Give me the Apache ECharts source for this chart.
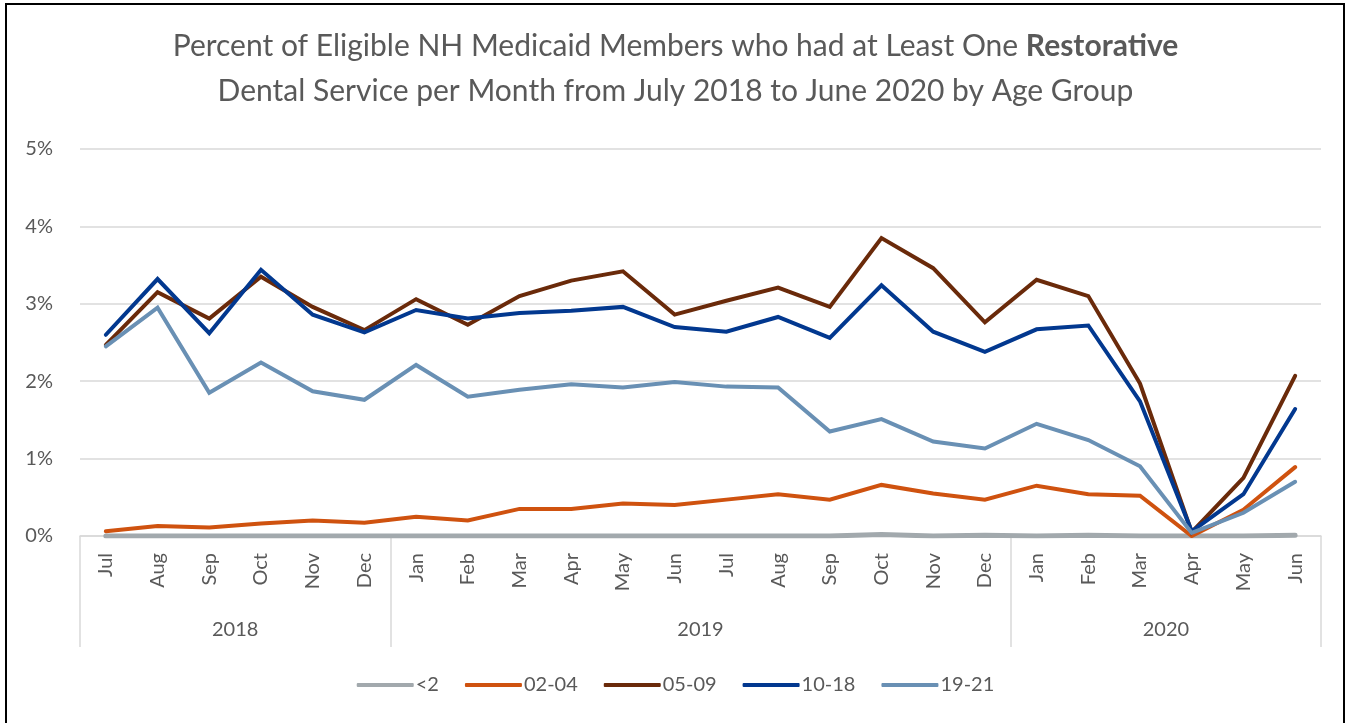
<!DOCTYPE html>
<html>
<head>
<meta charset="utf-8">
<script src="https://cdn.jsdelivr.net/npm/echarts@6/dist/echarts.min.js"></script>
<style>
html,body{margin:0;padding:0;background:#fff;}
#frame{position:absolute;left:5px;top:3px;width:1340px;height:740px;border:2px solid #000;box-sizing:border-box;}
#chart{position:absolute;left:0;top:0;width:1351px;height:723px;}
</style>
</head>
<body>
<div id="frame"></div>
<div id="chart"></div>
<script>
const months = ['Jul','Aug','Sep','Oct','Nov','Dec','Jan','Feb','Mar','Apr','May','Jun','Jul','Aug','Sep','Oct','Nov','Dec','Jan','Feb','Mar','Apr','May','Jun'];
const years = ['2018','2019','2020'];
const yearSpans = [6,12,6];
const yTicks = [0,1,2,3,4,5];

const seriesNames = ['<2','02-04','05-09','10-18','19-21'];
const lt2   = [0.00,0.00,0.00,0.00,0.00,0.00,0.00,0.00,0.00,0.00,0.00,0.00,0.00,0.00,0.00,0.02,0.00,0.01,0.00,0.01,0.00,0.00,0.00,0.01];
const a0204 = [0.06,0.13,0.11,0.16,0.20,0.17,0.25,0.20,0.35,0.35,0.42,0.40,0.47,0.54,0.47,0.66,0.55,0.47,0.65,0.54,0.52,0.00,0.34,0.89];
const a0509 = [2.47,3.15,2.81,3.35,2.96,2.66,3.06,2.73,3.10,3.30,3.42,2.86,3.04,3.21,2.96,3.85,3.46,2.76,3.31,3.10,1.97,0.05,0.75,2.07];
const a1018 = [2.60,3.32,2.62,3.44,2.86,2.63,2.92,2.81,2.88,2.91,2.96,2.70,2.64,2.83,2.56,3.24,2.64,2.38,2.67,2.72,1.74,0.06,0.54,1.64];
const a1921 = [2.45,2.95,1.85,2.24,1.87,1.76,2.21,1.80,1.89,1.96,1.92,1.99,1.93,1.92,1.35,1.51,1.22,1.13,1.45,1.24,0.90,0.04,0.30,0.70];
const seriesData = [lt2,a0204,a0509,a1018,a1921];
const colors = ['#A2A9AD','#CF520F','#6A2A0A','#02388F','#6990B4'];
const widths = [5,4,4,4,4];

const bounds = [0]; const mids = [];
yearSpans.forEach(s => { mids.push(bounds[bounds.length-1] + s/2); bounds.push(bounds[bounds.length-1] + s); });

const FONT = 'Lato';
const chart = echarts.init(document.getElementById('chart'), null, {renderer:'canvas'});
chart.setOption({
  animation:false,
  textStyle:{fontFamily:FONT},
  title:{
    left:'center', top:19,
    text:'{n|Percent of Eligible NH Medicaid Members who had at Least One }{b|Restorative}\n{n|Dental Service per Month from July 2018 to June 2020 by Age Group}',
    textStyle:{
      fontWeight:'normal', align:'center',
      rich:{
        n:{fontFamily:FONT,fontSize:30,color:'#595959',fontWeight:'normal',lineHeight:45},
        b:{fontFamily:FONT,fontSize:30,color:'#595959',fontWeight:'bold',lineHeight:45}
      }
    }
  },
  legend:{
    bottom:23, left:'center',
    icon:'roundRect',
    itemWidth:57, itemHeight:4, itemGap:26,
    textStyle:{fontFamily:FONT,fontSize:20,color:'#595959',padding:[0,0,0,-3]},
    data:seriesNames
  },
  grid:{left:80,right:30,top:149,bottom:187,containLabel:false},
  xAxis:[
    {
      type:'category', data:months, boundaryGap:true, position:'bottom',
      axisLine:{show:true,lineStyle:{color:'#D9D9D9',width:1.5}},
      axisTick:{show:false},
      axisLabel:{rotate:90,margin:17,fontSize:20,color:'#595959',fontFamily:FONT,interval:0}
    },
    {
      type:'value', min:0, max:months.length, position:'bottom',
      axisLine:{show:false},
      splitLine:{show:false},
      axisTick:{show:true,length:111,customValues:bounds,lineStyle:{color:'#D9D9D9',width:1.5}},
      axisLabel:{show:true,margin:84,fontSize:20,color:'#595959',fontFamily:FONT,customValues:mids,
        formatter:function(v){const i=mids.indexOf(v);return i>=0?years[i]:'';}}
    }
  ],
  yAxis:{
    type:'value', min:yTicks[0], max:yTicks[yTicks.length-1], interval:1,
    axisLine:{show:false}, axisTick:{show:false},
    splitLine:{lineStyle:{color:'#D9D9D9',width:1.5}},
    axisLabel:{formatter:'{value}%',fontSize:20,color:'#595959',margin:27,fontFamily:FONT}
  },
  series: seriesNames.map((n,i)=>({
    name:n, type:'line', xAxisIndex:0, data:seriesData[i],
    symbol:'none', showSymbol:false,
    lineStyle:{color:colors[i],width:widths[i],cap:'round',join:'miter'},
    itemStyle:{color:colors[i]},
    z: 2+i
  }))
});
</script>
</body>
</html>
